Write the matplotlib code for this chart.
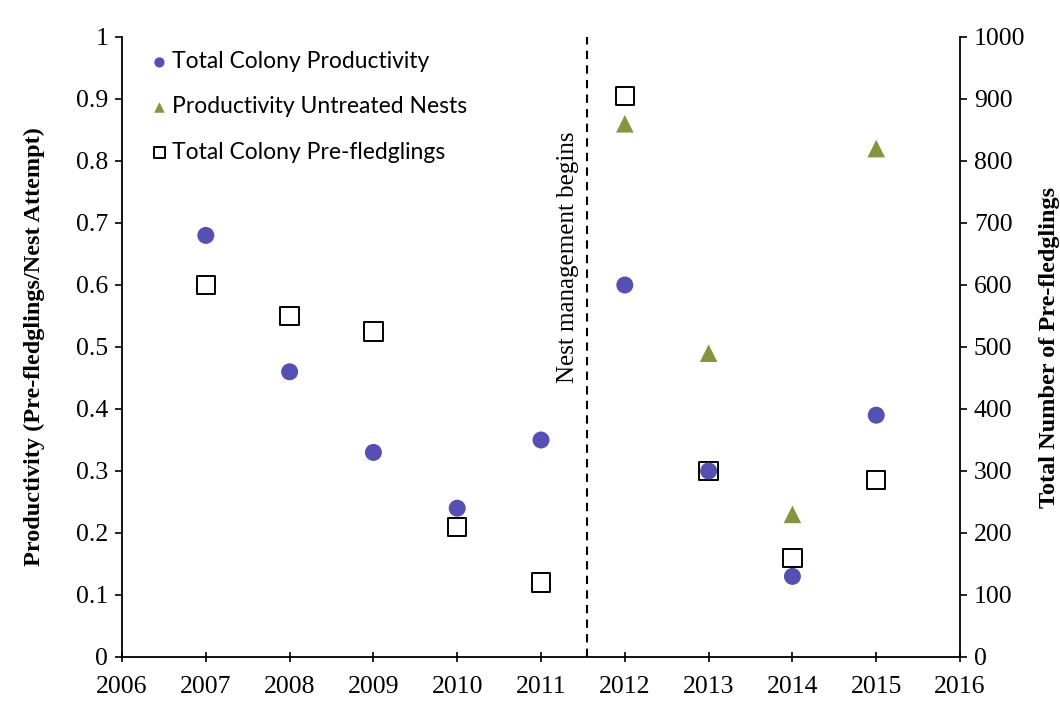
import numpy as np
import matplotlib
matplotlib.use("Agg")
import matplotlib.pyplot as plt
from matplotlib.ticker import MultipleLocator, FuncFormatter

# ==== DATA ====
YEARS = [2007, 2008, 2009, 2010, 2011, 2012, 2013, 2014, 2015]
COLONY_PRODUCTIVITY = [0.68, 0.46, 0.33, 0.24, 0.35, 0.60, 0.30, 0.13, 0.39]

UNTREATED_YEARS = [2012, 2013, 2014, 2015]
UNTREATED_PRODUCTIVITY = [0.86, 0.49, 0.23, 0.82]

PRE_FLEDGLINGS = [600, 550, 525, 210, 120, 905, 300, 160, 285]

MANAGEMENT_START = 2011.55

# ==== STYLE ====
SERIF = "Liberation Serif"
LEGEND_FONT = "Lato"
TICK_FONTSIZE = 18.5
LABEL_FONTSIZE = 17.5
CIRCLE_COLOR = "#5650b2"
TRIANGLE_COLOR = "#84943f"

plt.rcParams["font.family"] = SERIF

fig = plt.figure(figsize=(10.6, 7.17), dpi=100)
ax = fig.add_axes([0.1151, 0.0837, 0.7906, 0.8647])
ax2 = ax.twinx()

ax.scatter(YEARS, COLONY_PRODUCTIVITY, s=150, color=CIRCLE_COLOR,
           edgecolors="none", zorder=3, label="Total Colony Productivity")
ax.scatter(UNTREATED_YEARS, UNTREATED_PRODUCTIVITY, s=160, marker="^",
           color=TRIANGLE_COLOR, edgecolors="none", zorder=3,
           label="Productivity Untreated Nests")
ax2.scatter(YEARS, PRE_FLEDGLINGS, s=175, marker="s", facecolors="none",
            edgecolors="black", linewidths=1.4, zorder=2,
            label="Total Colony Pre-fledglings")

# circles above the squares where they overlap
ax.set_zorder(ax2.get_zorder() + 1)
ax.patch.set_visible(False)

ax.axvline(MANAGEMENT_START, color="black", linestyle=(0, (4, 3)),
           linewidth=1.5, zorder=1)
ax.text(MANAGEMENT_START - 0.1, 0.645, "Nest management begins",
        rotation=90, ha="right", va="center", fontsize=18, family=SERIF)

# axes ranges and ticks
ax.set_xlim(2006, 2016)
ax.set_ylim(0, 1)
ax2.set_ylim(0, 1000)
ax.xaxis.set_major_locator(MultipleLocator(1))
ax.yaxis.set_major_locator(MultipleLocator(0.1))
ax2.yaxis.set_major_locator(MultipleLocator(100))
ax.yaxis.set_major_formatter(FuncFormatter(lambda v, _: f"{v:g}"))

ax.tick_params(axis="x", direction="inout", length=7, width=1.2,
               labelsize=TICK_FONTSIZE, pad=10)
ax.tick_params(axis="y", direction="out", length=5, width=1.2,
               labelsize=TICK_FONTSIZE, pad=5)
ax2.tick_params(axis="y", direction="out", length=5, width=1.2,
                labelsize=TICK_FONTSIZE, pad=5)

for a in (ax, ax2):
    a.spines["top"].set_visible(False)
    for side in ("left", "right", "bottom"):
        a.spines[side].set_linewidth(1.3)
ax.spines["right"].set_visible(False)
ax2.spines["left"].set_visible(False)
ax2.spines["bottom"].set_visible(False)

ax.set_ylabel("Productivity (Pre-fledglings/Nest Attempt)",
              fontsize=LABEL_FONTSIZE, fontweight="bold", labelpad=22)
ax2.set_ylabel("Total Number of Pre-fledglings",
               fontsize=LABEL_FONTSIZE, fontweight="bold", labelpad=10)

# legend
handles = ax.get_legend_handles_labels()[0] + ax2.get_legend_handles_labels()[0]
leg = ax.legend(handles=handles, loc="upper left",
                bbox_to_anchor=(0.005, 1.01), frameon=False,
                prop={"family": LEGEND_FONT, "size": 16.5},
                handletextpad=0.0, labelspacing=1.05, markerscale=0.6,
                handlelength=1.1)

fig.savefig("out.png", dpi=100)
